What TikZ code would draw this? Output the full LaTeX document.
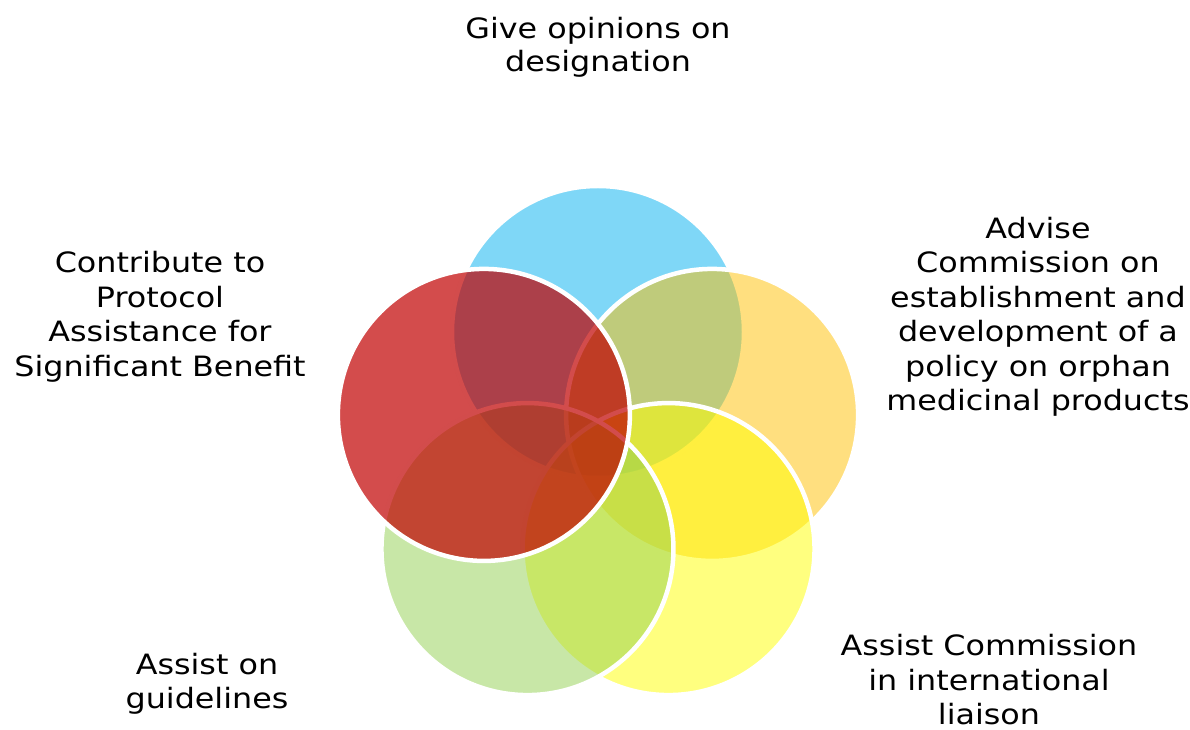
\documentclass[tikz,border=0pt]{standalone}
\usepackage{fontspec}
\setmainfont{DejaVu Sans}[FakeStretch=1.135]
\definecolor{cblue}{HTML}{00B0F0}
\definecolor{corange}{HTML}{FFC000}
\definecolor{cyellow}{HTML}{FFFF00}
\definecolor{cgreen}{HTML}{92D050}
\definecolor{cred}{HTML}{C00000}
\tikzset{
  bubble/.style={circle, draw=white, line width=4.5pt, minimum size=292pt, inner sep=0pt},
  note/.style={align=center, font=\fontsize{28}{34.5}\selectfont}
}
\begin{document}
\begin{tikzpicture}[x=1pt,y=1pt]
    \useasboundingbox (-598,-278) rectangle (592,452);

    % five circles round the centre
    \foreach \ang/\col/\op/\nm in {90/cblue/.5/blue, 18/corange/.5/orange,
        -54/cyellow/.5/yellow, -126/cgreen/.5/green, 162/cred/.7/red}
      \node[bubble, fill=\col, fill opacity=\op] (\nm) at (\ang:120) {};

    \node[note, font=\fontsize{28}{33}\selectfont] (designation) at (0,405) {Give opinions on\\designation};
    \node[note] (protocol) at (-438,135) {Contribute to\\Protocol\\Assistance for\\Significant Benefit};
    \node[note] (policy) at (440,135) {Advise\\Commission on\\establishment and\\development of a\\policy on orphan\\medicinal products};
    \node[note, inner sep=1pt] (liaison) at (391,-228) {Assist Commission\\in international\\liaison};
    \node[note] (guidelines) at (-391,-232) {Assist on\\guidelines};
  \end{tikzpicture}
\end{document}
